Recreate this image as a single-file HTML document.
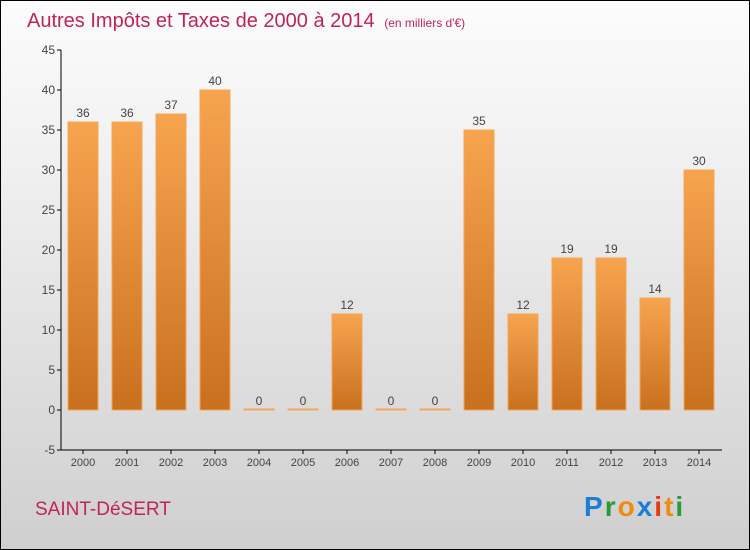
<!DOCTYPE html>
<html><head><meta charset="utf-8"><style>
body{margin:0;}
#c{position:relative;width:748px;height:548px;border:1px solid #000;background:linear-gradient(#fcfcfc,#f0f0f0 30%,#cfcfcf);font-family:"Liberation Sans",sans-serif;overflow:hidden;}
</style></head><body>
<div id="c">
<svg id="s" width="748" height="548" xmlns="http://www.w3.org/2000/svg">
<defs><linearGradient id="g" x1="0" y1="0" x2="0" y2="1"><stop offset="0" stop-color="#f7a44f"/><stop offset="1" stop-color="#c9701f"/></linearGradient></defs>
<text x="26" y="26" font-size="20" fill="#c0245a">Autres Impôts et Taxes de 2000 à 2014 <tspan font-size="12" dx="4">(en milliers d'€)</tspan></text>
<text x="34" y="514" font-size="19" fill="#c0245a">SAINT-DéSERT</text>
<text x="583" y="515" font-size="28" letter-spacing="2" font-weight="bold"><tspan fill="#1a7fd4">P</tspan><tspan fill="#2a9a3a">r</tspan><tspan fill="#f08a10">o</tspan><tspan fill="#1a7fd4">x</tspan><tspan fill="#e83a10">i</tspan><tspan fill="#f08a10">t</tspan><tspan fill="#2a9a3a">i</tspan></text>
<g id="plot"></g>
</svg></div>
<script>
const categories=["2000","2001","2002","2003","2004","2005","2006","2007","2008","2009","2010","2011","2012","2013","2014"];
const values=[36,36,37,40,0,0,12,0,0,35,12,19,19,14,30];
const yTicks=[-5,0,5,10,15,20,25,30,35,40,45];
const NS="http://www.w3.org/2000/svg";
const g=document.getElementById('plot');
const y=v=>409-(v)*8;
const x=i=>82+i*44;
function mk(t,a,txt){const e=document.createElementNS(NS,t);for(const k in a)e.setAttribute(k,a[k]);if(txt!=null)e.textContent=txt;g.appendChild(e);return e;}
let ax=mk('line',{x1:60,y1:y(-5),x2:60,y2:y(45),stroke:'#000','stroke-width':1});


let bx=mk('line',{x1:60,y1:y(-5),x2:721,y2:y(-5),stroke:'#000','stroke-width':1});


yTicks.forEach(v=>{
 mk('line',{x1:56,x2:60,y1:y(v),y2:y(v),stroke:'#000'});
 const t=mk('text',{x:54,y:y(v)+4,'text-anchor':'end','font-size':12,fill:'#444'},v);
 
 
});
categories.forEach((c,i)=>{
 const v=values[i];
 const top=y(Math.max(v,0)),h=Math.max(Math.abs(y(0)-y(v)),1);
 const r=mk('rect',{x:x(i)-15,y:v>0?top:y(0)-1,width:30,height:h,fill:'url(#g)',stroke:'#f5a65a','stroke-width':1});
 
 
 const l=mk('text',{x:x(i),y:(v>0?top:y(0))-5,'text-anchor':'middle','font-size':12,fill:'#444'},v);
 
 
 mk('line',{x1:x(i),x2:x(i),y1:y(-5),y2:y(-5)+4,stroke:'#000'});
 const cl=mk('text',{x:x(i),y:y(-5)+16,'text-anchor':'middle','font-size':11,fill:'#444'},c);
 
 
});
</script>
</body></html>
